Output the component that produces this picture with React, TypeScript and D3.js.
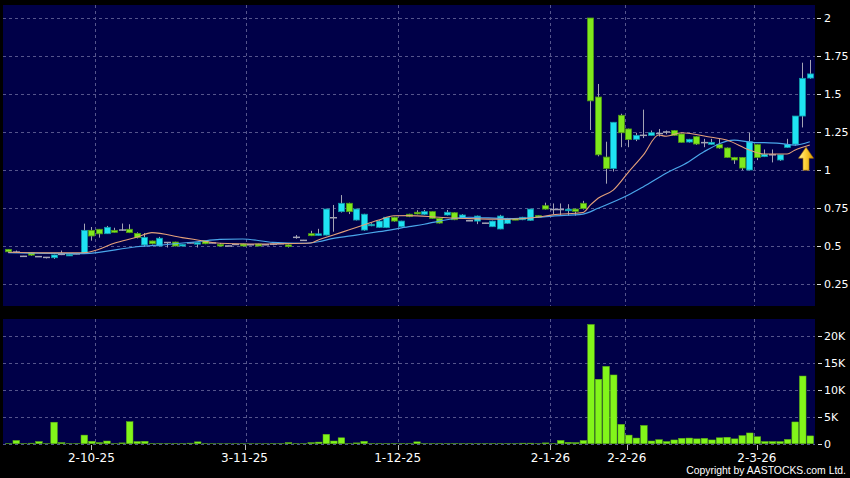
import React from "react";
import * as d3 from "d3";

// ---- data ----
const opens = [
  0.478, 0.46, 0.432, 0.456, 0.43, 0.425, 0.423, 0.445, 0.44, 0.448,
  0.452, 0.603, 0.61, 0.581, 0.603, 0.605, 0.61, 0.583, 0.507, 0.533,
  0.5, 0.523, 0.526, 0.5, 0.52, 0.512, 0.535, 0.52, 0.51, 0.5,
  0.51, 0.513, 0.508, 0.513, 0.508, 0.512, 0.515, 0.507, 0.557, 0.537,
  0.581, 0.57, 0.572, 0.686, 0.726, 0.781, 0.671, 0.605, 0.634, 0.623,
  0.621, 0.689, 0.627, 0.709, 0.722, 0.709, 0.726, 0.682, 0.704, 0.719,
  0.682, 0.666, 0.664, 0.65, 0.627, 0.612, 0.649, 0.68, 0.673, 0.669,
  0.7, 0.765, 0.74, 0.74, 0.74, 0.743, 0.781, 2.0, 1.48, 1.085,
  1.01, 1.36, 1.27, 1.202, 1.228, 1.228, 1.24, 1.25, 1.259, 1.237,
  1.184, 1.219, 1.18, 1.169, 1.167, 1.145, 1.083, 1.083, 1.0, 1.167,
  1.088, 1.1, 1.066, 1.149, 1.17, 1.355, 1.605,
];
const highs = [
  0.48, 0.47, 0.435, 0.458, 0.432, 0.427, 0.443, 0.47, 0.447, 0.45,
  0.647, 0.625, 0.612, 0.632, 0.62, 0.648, 0.643, 0.59, 0.585, 0.535,
  0.56, 0.525, 0.528, 0.512, 0.522, 0.523, 0.537, 0.522, 0.52, 0.502,
  0.512, 0.515, 0.51, 0.515, 0.51, 0.515, 0.518, 0.51, 0.572, 0.54,
  0.6, 0.613, 0.745, 0.77, 0.835, 0.785, 0.745, 0.712, 0.65, 0.67,
  0.69, 0.692, 0.666, 0.712, 0.735, 0.737, 0.728, 0.684, 0.737, 0.722,
  0.71, 0.668, 0.7, 0.652, 0.667, 0.705, 0.685, 0.683, 0.692, 0.745,
  0.703, 0.785, 0.78, 0.78, 0.775, 0.745, 0.797, 2.0, 1.566, 1.186,
  1.314, 1.37, 1.272, 1.245, 1.397, 1.26, 1.27, 1.26, 1.262, 1.24,
  1.205, 1.222, 1.205, 1.205, 1.205, 1.148, 1.086, 1.085, 1.245, 1.17,
  1.135, 1.135, 1.1, 1.205, 1.355, 1.706, 1.724,
];
const lows = [
  0.46, 0.455, 0.43, 0.435, 0.428, 0.418, 0.415, 0.44, 0.435, 0.446,
  0.45, 0.535, 0.555, 0.58, 0.588, 0.6, 0.585, 0.55, 0.495, 0.51,
  0.498, 0.49, 0.498, 0.497, 0.518, 0.49, 0.512, 0.518, 0.498, 0.498,
  0.508, 0.498, 0.505, 0.498, 0.506, 0.505, 0.512, 0.49, 0.548, 0.535,
  0.565, 0.568, 0.57, 0.594, 0.72, 0.71, 0.668, 0.6, 0.63, 0.62,
  0.618, 0.66, 0.625, 0.69, 0.708, 0.705, 0.68, 0.648, 0.7, 0.67,
  0.68, 0.664, 0.644, 0.648, 0.625, 0.61, 0.645, 0.67, 0.67, 0.665,
  0.685, 0.74, 0.71, 0.7, 0.7, 0.7, 0.74, 1.263, 1.09, 0.91,
  0.99, 1.15, 1.15, 1.19, 1.21, 1.225, 1.22, 1.235, 1.225, 1.18,
  1.18, 1.165, 1.15, 1.165, 1.14, 1.08, 1.04, 1.0, 0.998, 1.065,
  1.085, 1.05, 1.06, 1.145, 1.16, 1.28, 1.6,
];
const closes = [
  0.462, 0.46, 0.432, 0.44, 0.43, 0.425, 0.441, 0.445, 0.445, 0.448,
  0.603, 0.566, 0.58, 0.623, 0.59, 0.605, 0.588, 0.555, 0.557, 0.515,
  0.551, 0.523, 0.5, 0.51, 0.52, 0.522, 0.515, 0.52, 0.5, 0.5,
  0.51, 0.5, 0.508, 0.5, 0.508, 0.512, 0.515, 0.496, 0.557, 0.537,
  0.568, 0.58, 0.743, 0.686, 0.781, 0.726, 0.743, 0.709, 0.643, 0.664,
  0.689, 0.664, 0.664, 0.695, 0.711, 0.726, 0.682, 0.651, 0.722, 0.673,
  0.704, 0.666, 0.697, 0.65, 0.664, 0.697, 0.682, 0.673, 0.689, 0.743,
  0.69, 0.743, 0.74, 0.74, 0.742, 0.728, 0.746, 1.455, 1.1, 1.01,
  1.314, 1.245, 1.2, 1.228, 1.228, 1.245, 1.24, 1.25, 1.228, 1.182,
  1.202, 1.171, 1.18, 1.182, 1.145, 1.083, 1.066, 1.013, 1.186, 1.083,
  1.103, 1.1, 1.1, 1.167, 1.355, 1.603, 1.632,
];
// volume in thousands of shares
const volumes = [
  0.05, 0.6, 0.05, 0.1, 0.4, 0.05, 4.0, 0.2, 0.05, 0.05,
  1.6, 0.45, 0.2, 0.5, 0.05, 0.15, 4.1, 0.4, 0.45, 0.05,
  0.05, 0.05, 0.05, 0.05, 0.1, 0.35, 0.05, 0.03, 0.03, 0.03,
  0.03, 0.03, 0.03, 0.03, 0.03, 0.05, 0.05, 0.2, 0.05, 0.05,
  0.2, 0.3, 1.75, 0.5, 1.1, 0.05, 0.15, 0.45, 0.05, 0.05,
  0.05, 0.05, 0.05, 0.05, 0.35, 0.05, 0.05, 0.05, 0.05, 0.05,
  0.05, 0.05, 0.05, 0.05, 0.05, 0.05, 0.05, 0.05, 0.1, 0.1,
  0.05, 0.15, 0.05, 0.6, 0.25, 0.2, 0.6, 22.2, 12.0, 14.4,
  12.8, 3.6, 1.6, 1.05, 3.4, 0.5, 0.75, 0.4, 0.7, 1.0,
  1.05, 0.9, 1.0, 0.7, 1.1, 1.2, 0.9, 1.5, 2.0, 1.3,
  0.4, 0.4, 0.4, 0.8, 4.05, 12.6, 1.45,
];
// short moving average, read as [bar index, value]
const maShort: [number, number][] = [
  [0, 0.459], [5, 0.455], [10, 0.456], [12, 0.478], [14, 0.518], [17, 0.557],
  [19, 0.588], [23, 0.555], [25, 0.54], [28, 0.518], [32, 0.513], [36, 0.515],
  [40, 0.52], [41, 0.54], [43, 0.572], [45, 0.605], [47, 0.638], [49, 0.671],
  [51, 0.699], [53, 0.7], [57, 0.689], [61, 0.68], [66, 0.676], [70, 0.689],
  [72, 0.705], [76, 0.72], [77, 0.77], [78, 0.814], [80, 0.868], [82, 0.985],
  [84, 1.099], [86, 1.23], [87, 1.222], [89, 1.245], [93, 1.215], [95, 1.197],
  [98, 1.132], [100, 1.105], [103, 1.105], [104, 1.13], [106, 1.164],
];
// long moving average, read as [bar index, value]
const maLong: [number, number][] = [
  [0, 0.456], [10, 0.45], [17, 0.495], [21, 0.51], [25, 0.528], [28, 0.544],
  [31, 0.546], [35, 0.524], [39, 0.518], [41, 0.528], [43, 0.55], [46, 0.572],
  [49, 0.594], [53, 0.627], [55, 0.643], [57, 0.664], [61, 0.689], [66, 0.68],
  [70, 0.689], [72, 0.697], [76, 0.71], [78, 0.748], [82, 0.835], [84, 0.89],
  [87, 0.978], [90, 1.055], [92, 1.12], [96, 1.197], [98, 1.184], [102, 1.175],
  [104, 1.164], [106, 1.186],
];
const dateLabels = ["2-10-25", "3-11-25", "1-12-25", "2-1-26", "2-2-26", "2-3-26"];
const dateTickIdx = [11, 31.25, 51.5, 71.7, 81.8, 99];
const dateGridIdx = [11.5, 31.5, 51.5, 71.6, 81.5, 98.6];
const priceTicks = [0.25, 0.5, 0.75, 1, 1.25, 1.5, 1.75, 2];
const volTicks = [0, 5, 10, 15, 20];
const signalIdx = 105.5;
const signalPrice = 1.15;

const W = 850;
const H = 478;
const PL = 3;
const PR = 815;
const MT = 5;
const MB = 306;
const VT = 319;
const VB = 444;

const GREEN = "#7fe81c";
const GREEN_EDGE = "#4f9a14";
const CYAN = "#1fe3f3";
const CYAN_EDGE = "#119aa8";
const GRID = "#55558c";
const FONT = "DejaVu Sans, Verdana, sans-serif";

export default function App() {
  const x = d3.scaleLinear().domain([0, opens.length - 1]).range([8.2, 809.8]);
  const y = d3.scaleLinear().domain([0, 2]).range([322, 18]);
  const yv = d3.scaleLinear().domain([0, 20]).range([443.7, 336.3]);

  const line = d3
    .line<[number, number]>()
    .x((d) => x(d[0]))
    .y((d) => y(d[1]))
    .curve(d3.curveMonotoneX);

  const bodyW = 6;
  const volW = 6.6;

  return (
    <svg
      width={W}
      height={H}
      style={{ position: "absolute", left: 0, top: 0, background: "#000" }}
    >
      <defs>
        <clipPath id="mainClip">
          <rect x={PL} y={MT} width={PR - PL} height={MB - MT} />
        </clipPath>
        <linearGradient id="arrowGrad" x1="0" x2="1" y1="0" y2="0">
          <stop offset="0%" stopColor="#fff3a8" />
          <stop offset="45%" stopColor="#ffd23a" />
          <stop offset="100%" stopColor="#d99a00" />
        </linearGradient>
      </defs>
      <rect x={0} y={0} width={W} height={H} fill="#000" />
      {/* panels */}
      <rect x={PL} y={MT} width={PR - PL} height={MB - MT} fill="#000048" />
      <rect x={PL} y={VT} width={PR - PL} height={VB - VT} fill="#000048" />

      {/* main grid */}
      {priceTicks.map((p) => (
        <line
          key={"pg" + p}
          x1={PL}
          x2={PR}
          y1={Math.round(y(p)) + 0.5}
          y2={Math.round(y(p)) + 0.5}
          stroke={GRID}
          strokeDasharray="3,3"
        />
      ))}
      {dateGridIdx.map((g, k) => (
        <g key={"dg" + k}>
          <line
            x1={Math.round(x(g)) + 0.5}
            x2={Math.round(x(g)) + 0.5}
            y1={MT}
            y2={MB}
            stroke={GRID}
            strokeDasharray="3,3"
          />
          <line
            x1={Math.round(x(g)) + 0.5}
            x2={Math.round(x(g)) + 0.5}
            y1={VT}
            y2={VB}
            stroke={GRID}
            strokeDasharray="3,3"
          />
        </g>
      ))}
      {volTicks.map((v) => (
        <line
          key={"vg" + v}
          x1={PL}
          x2={PR}
          y1={Math.round(yv(v)) + 0.5}
          y2={Math.round(yv(v)) + 0.5}
          stroke={GRID}
          strokeDasharray="3,3"
        />
      ))}

      {/* candles */}
      <g clipPath="url(#mainClip)">
        {opens.map((o, i) => {
          const c = closes[i];
          const cx = Math.round(x(i)) + 0.5;
          const up = c > o;
          const down = c < o;
          const top = y(Math.max(o, c));
          const bot = y(Math.min(o, c));
          return (
            <g key={"c" + i}>
              <line
                x1={cx}
                x2={cx}
                y1={y(highs[i])}
                y2={y(lows[i])}
                stroke="#a4a4b4"
                strokeWidth={1}
              />
              {up || down ? (
                <rect
                  x={cx - bodyW / 2}
                  y={top}
                  width={bodyW}
                  height={Math.max(1.5, bot - top)}
                  fill={up ? CYAN : GREEN}
                  stroke={up ? CYAN_EDGE : GREEN_EDGE}
                  strokeWidth={0.8}
                />
              ) : (
                <line
                  x1={cx - 3.5}
                  x2={cx + 3.5}
                  y1={y(o)}
                  y2={y(o)}
                  stroke="#a4a4b4"
                  strokeWidth={1.5}
                />
              )}
            </g>
          );
        })}
        <path d={line(maLong) || ""} fill="none" stroke="#4aa6ea" strokeWidth={1.2} />
        <path d={line(maShort) || ""} fill="none" stroke="#e4a07a" strokeWidth={1.1} />
      </g>

      {/* signal arrow */}
      {(() => {
        const ax = x(signalIdx);
        const ay = y(signalPrice);
        const d = `M${ax},${ay} L${ax + 7.5},${ay + 11} L${ax + 3},${ay + 11} L${ax + 3},${ay + 23} L${ax - 3},${ay + 23} L${ax - 3},${ay + 11} L${ax - 7.5},${ay + 11} Z`;
        return <path d={d} fill="url(#arrowGrad)" stroke="#b07800" strokeWidth={0.6} />;
      })()}

      {/* volume bars */}
      {volumes.map((v, i) => (
        <rect
          key={"v" + i}
          x={x(i) - volW / 2 + 0.5}
          y={yv(v)}
          width={volW}
          height={yv(0) - yv(v)}
          fill="#82f51a"
          stroke="#5cb012"
          strokeWidth={0.5}
        />
      ))}

      {/* right axis price */}
      {priceTicks.map((p) => (
        <g key={"pt" + p}>
          <line x1={817} x2={821} y1={Math.round(y(p)) + 0.5} y2={Math.round(y(p)) + 0.5} stroke="#ddd" />
          <text
            x={824}
            y={y(p)}
            dy="0.35em"
            fill="#fff"
            fontFamily={FONT}
            fontSize={11}
          >
            {String(p)}
          </text>
        </g>
      ))}
      {/* right axis volume */}
      {volTicks.map((v) => (
        <g key={"vt" + v}>
          <line x1={818} x2={822} y1={Math.round(yv(v)) + 0.5} y2={Math.round(yv(v)) + 0.5} stroke="#ddd" />
          <text
            x={824}
            y={yv(v)}
            dy="0.35em"
            fill="#fff"
            fontFamily={FONT}
            fontSize={11}
          >
            {v === 0 ? "0" : v + "K"}
          </text>
        </g>
      ))}
      {/* date axis */}
      {dateTickIdx.map((t, k) => (
        <g key={"dt" + k}>
          <line
            x1={Math.round(x(t)) + 0.5}
            x2={Math.round(x(t)) + 0.5}
            y1={445}
            y2={450}
            stroke="#bbb"
          />
          <text
            x={x(t)}
            y={462}
            textAnchor="middle"
            fill="#fff"
            fontFamily={FONT}
            fontSize={12}
          >
            {dateLabels[k]}
          </text>
        </g>
      ))}
      <text
        x={846}
        y={474}
        textAnchor="end"
        fill="#fff"
        fontFamily="Liberation Sans, Arial, sans-serif"
        fontSize={10.4}
      >
        Copyright by AASTOCKS.com Ltd.
      </text>
    </svg>
  );
}
